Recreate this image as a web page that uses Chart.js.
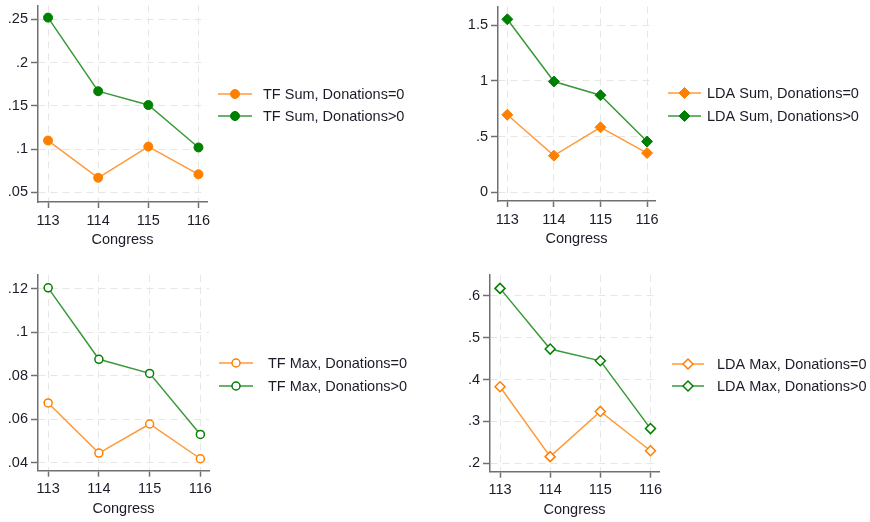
<!DOCTYPE html>
<html>
<head>
<meta charset="utf-8">
<script src="https://cdn.jsdelivr.net/npm/chart.js@4.4.0/dist/chart.umd.min.js"></script>
<style>
  body { margin: 0; background: #fff; width: 870px; height: 522px; position: relative; overflow: hidden; }
  canvas { position: absolute; }
</style>
</head>
<body>
<canvas id="c1" width="435" height="261" style="left:0;top:0"></canvas>
<canvas id="c2" width="435" height="261" style="left:435px;top:0"></canvas>
<canvas id="c3" width="435" height="261" style="left:0;top:261px"></canvas>
<canvas id="c4" width="435" height="261" style="left:435px;top:261px"></canvas>
<script>
// data
const congress = [113, 114, 115, 116];

const tfSum0 = [0.110, 0.067, 0.103, 0.071];
const tfSum1 = [0.252, 0.167, 0.151, 0.102];
const ldaSum0 = [0.696, 0.328, 0.583, 0.351];
const ldaSum1 = [1.555, 0.995, 0.872, 0.455];
const tfMax0 = [0.0675, 0.0444, 0.0578, 0.0418];
const tfMax1 = [0.1205, 0.0876, 0.0811, 0.0530];
const ldaMax0 = [0.383, 0.216, 0.324, 0.230];
const ldaMax1 = [0.618, 0.473, 0.445, 0.283];

const tfSumTicks = [0.05, 0.1, 0.15, 0.2, 0.25];
const ldaSumTicks = [0, 0.5, 1, 1.5];
const tfMaxTicks = [0.04, 0.06, 0.08, 0.1, 0.12];
const ldaMaxTicks = [0.2, 0.3, 0.4, 0.5, 0.6];

const markColors = ['#ff8000', '#008000'];
const lineColors = ['#ff9a3a', '#3a9a3a'];
const textColor = '#1c1c28';
const axisColor = '#707070';
const gridColor = '#e6e6e6';
const fontFamily = '"Liberation Sans", Arial, sans-serif';

function fmt(v) {
    if (v === 0) return '0';
    return String(+v.toFixed(4)).replace(/^0\./, '.');
}

// legend drawn to the right of the plot, line with marker in the middle
const sideLegend = {
    id: 'sideLegend',
    afterDraw(chart, args, opts) {
        const ctx = chart.ctx;
        ctx.save();
        chart.data.datasets.forEach((ds, i) => {
            const y = opts.y + i * opts.gap;
            ctx.strokeStyle = ds.borderColor;
            ctx.lineWidth = ds.borderWidth;
            ctx.beginPath();
            ctx.moveTo(opts.x, y);
            ctx.lineTo(opts.x + opts.len, y);
            ctx.stroke();
            ctx.fillStyle = ds.pointBackgroundColor;
            ctx.strokeStyle = ds.pointBorderColor;
            ctx.lineWidth = ds.pointBorderWidth;
            Chart.helpers.drawPoint(ctx, {
                pointStyle: ds.pointStyle,
                radius: ds.pointRadius,
                borderWidth: ds.pointBorderWidth,
                rotation: 0
            }, opts.x + opts.len / 2, y);
            ctx.fillStyle = textColor;
            ctx.font = '14.5px ' + fontFamily;
            ctx.textBaseline = 'middle';
            ctx.textAlign = 'left';
            ctx.fillText(ds.label, opts.textX, y + 1);
        });
        ctx.restore();
    }
};

function panel(id, area, yMin, yMax, yTicks, series, labels, style, radius, filled, legend) {
    const yWidth = 40, xHeight = 50;
    const datasets = series.map((vals, i) => ({
        label: labels[i],
        data: congress.map((c, j) => ({ x: c, y: vals[j] })),
        borderColor: lineColors[i],
        borderWidth: 1.5,
        pointStyle: style,
        pointRadius: radius,
        pointHoverRadius: radius,
        pointBorderColor: markColors[i],
        pointBackgroundColor: filled ? markColors[i] : '#ffffff',
        pointBorderWidth: filled ? 1 : 1.5,
        tension: 0
    }));
    return new Chart(document.getElementById(id).getContext('2d'), {
        type: 'line',
        data: { datasets: datasets },
        plugins: [sideLegend],
        options: {
            responsive: false,
            animation: false,
            layout: {
                padding: {
                    left: area.left - yWidth,
                    top: area.top,
                    right: 435 - area.right,
                    bottom: 261 - area.bottom - xHeight
                }
            },
            plugins: {
                legend: { display: false },
                tooltip: { enabled: false },
                sideLegend: legend
            },
            scales: {
                x: {
                    type: 'linear',
                    min: 112.8,
                    max: 116.17,
                    afterBuildTicks: s => { s.ticks = congress.map(v => ({ value: v })); },
                    afterFit: s => { s.height = xHeight; s.paddingLeft = 0; s.paddingRight = 0; },
                    ticks: { color: textColor, font: { family: fontFamily, size: 14.5 }, padding: 4, callback: v => String(v) },
                    grid: { color: gridColor, lineWidth: 1, tickLength: 6, tickColor: axisColor, tickWidth: 1.5 },
                    border: { color: axisColor, width: 1.5, dash: [7, 5] },
                    title: { display: true, text: 'Congress', color: textColor, font: { family: fontFamily, size: 14.5 }, padding: { top: 0, bottom: 3 } }
                },
                y: {
                    min: yMin,
                    max: yMax,
                    afterBuildTicks: s => { s.ticks = yTicks.map(v => ({ value: v })); },
                    afterFit: s => { s.width = yWidth; s.paddingTop = 0; s.paddingBottom = 0; },
                    ticks: { color: textColor, font: { family: fontFamily, size: 14.5 }, padding: 3, callback: v => fmt(v) },
                    grid: { color: gridColor, lineWidth: 1, tickLength: 7, tickColor: axisColor, tickWidth: 1.5 },
                    border: { color: axisColor, width: 1.5, dash: [7, 5] }
                }
            }
        }
    });
}

window.onload = function () {
    panel('c1', { left: 38, top: 5, right: 207, bottom: 202 }, 0.039, 0.266, tfSumTicks,
        [tfSum0, tfSum1], ['TF Sum, Donations=0', 'TF Sum, Donations>0'], 'circle', 4.5, true,
        { x: 218, len: 34, textX: 263, y: 94, gap: 22 });

    panel('c2', { left: 63, top: 5, right: 220, bottom: 201 }, -0.08, 1.67, ldaSumTicks,
        [ldaSum0, ldaSum1], ['LDA Sum, Donations=0', 'LDA Sum, Donations>0'], 'rectRot', 5.5, true,
        { x: 233, len: 33, textX: 272, y: 93, gap: 23 });

    panel('c3', { left: 38, top: 14, right: 209, bottom: 209.7 }, 0.0363, 0.1264, tfMaxTicks,
        [tfMax0, tfMax1], ['TF Max, Donations=0', 'TF Max, Donations>0'], 'circle', 4, false,
        { x: 219, len: 34, textX: 268, y: 102, gap: 23 });

    panel('c4', { left: 55, top: 14, right: 224, bottom: 210.7 }, 0.18, 0.65, ldaMaxTicks,
        [ldaMax0, ldaMax1], ['LDA Max, Donations=0', 'LDA Max, Donations>0'], 'rectRot', 5, false,
        { x: 237, len: 32, textX: 282, y: 103, gap: 22 });
};
</script>
</body>
</html>
